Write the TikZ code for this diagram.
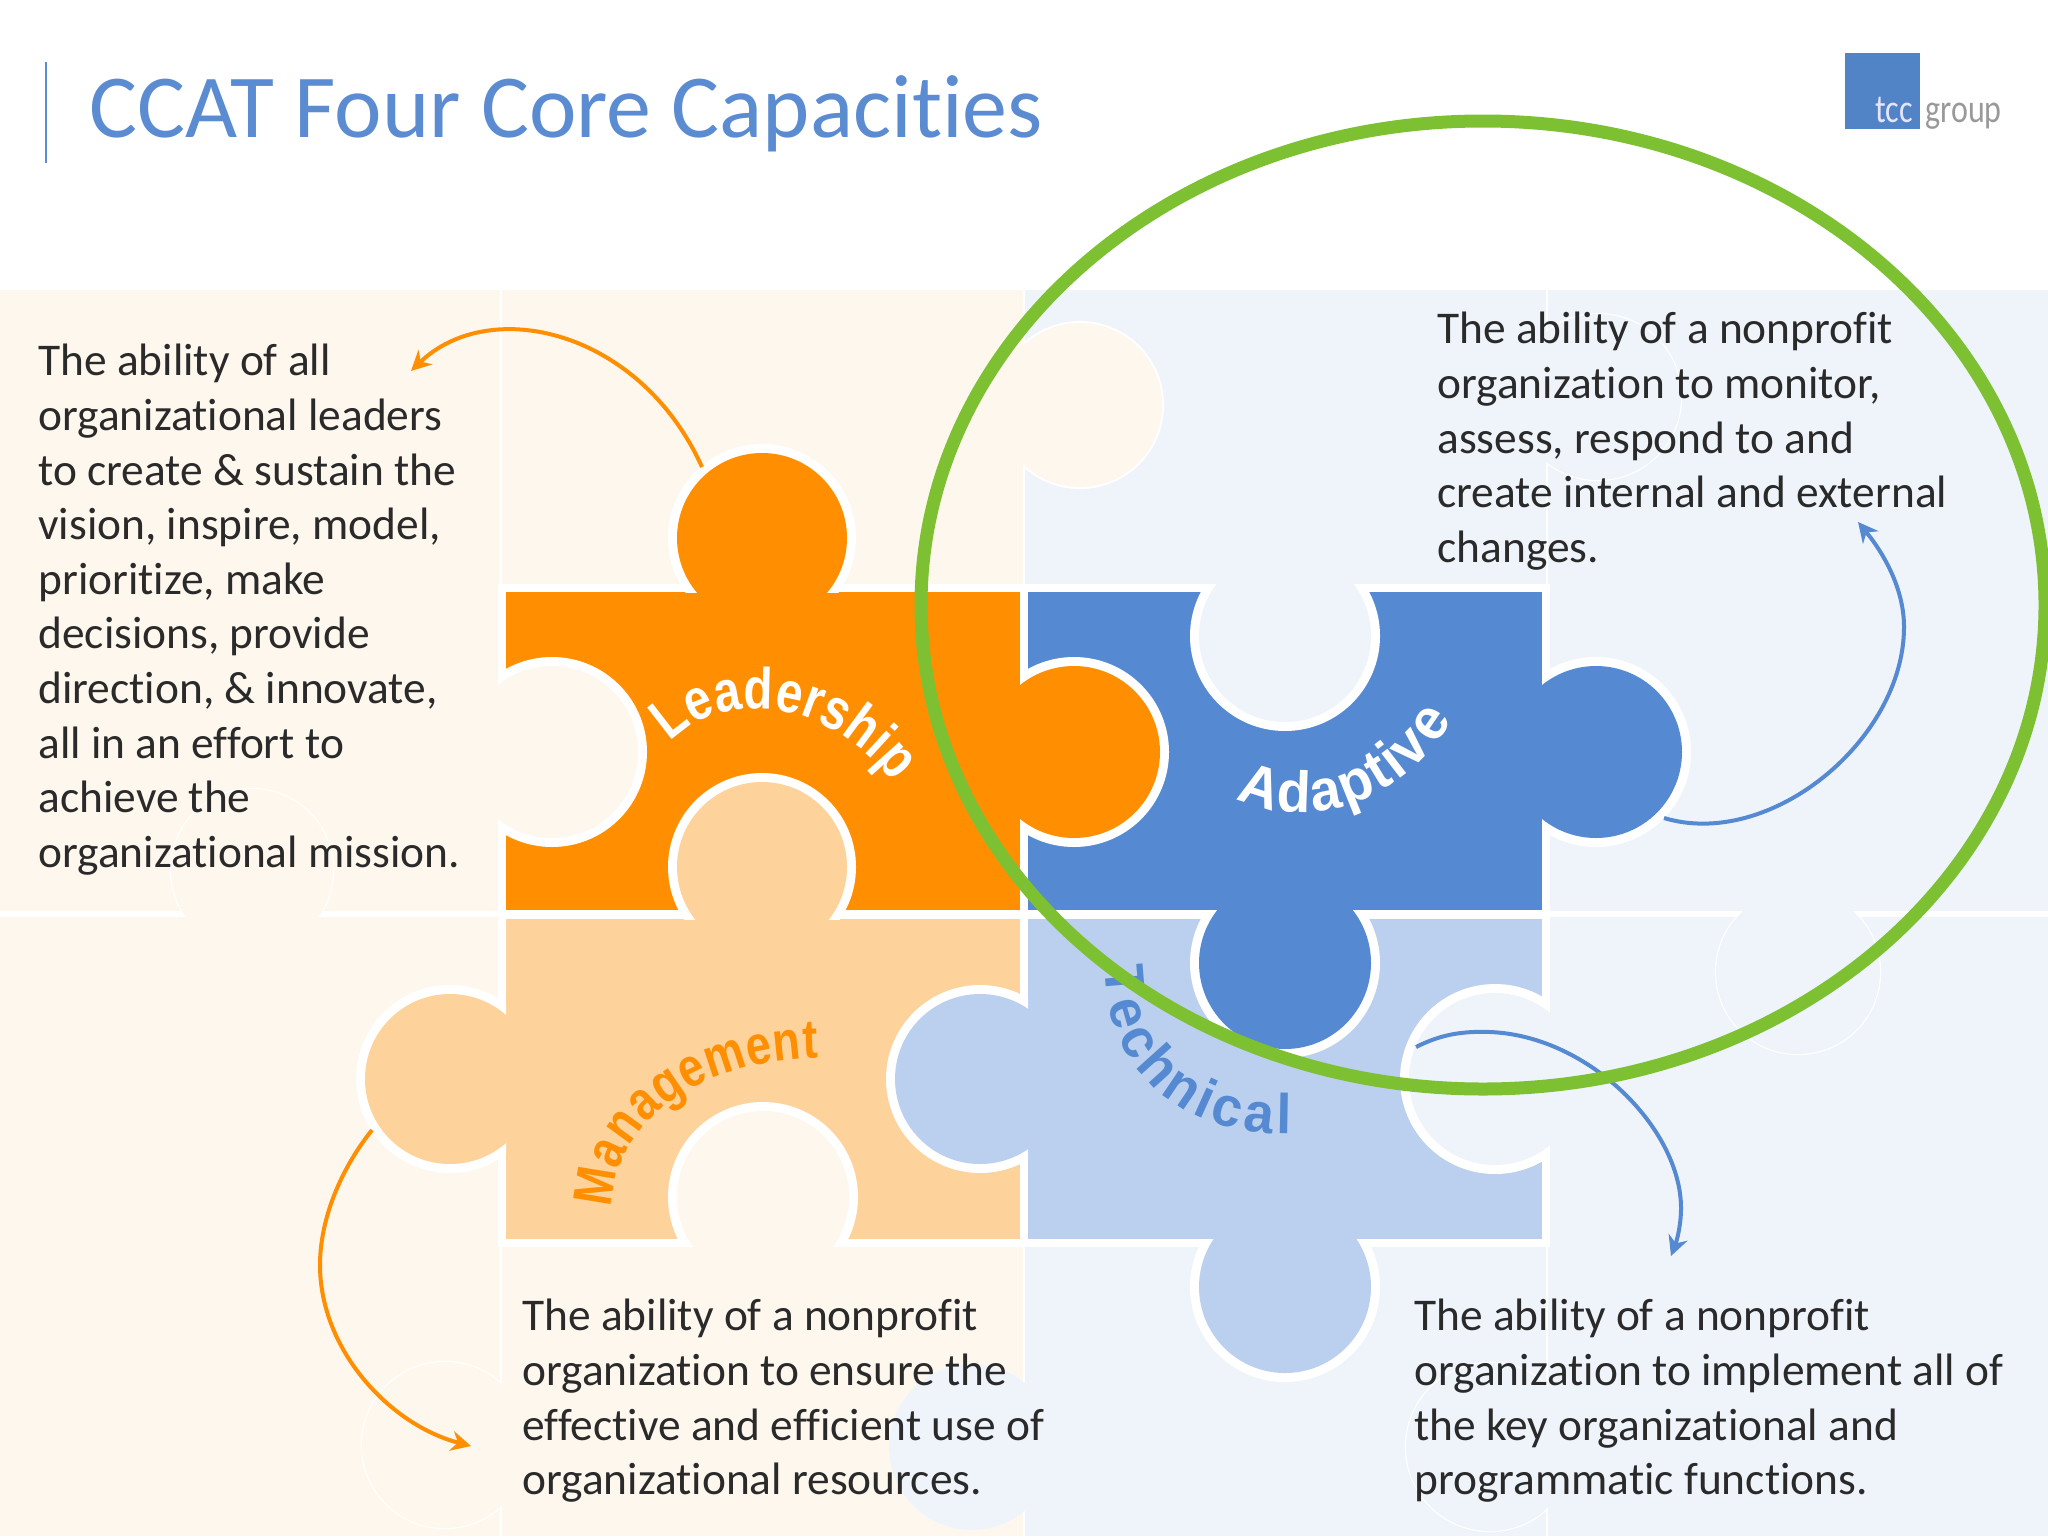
\documentclass[tikz,border=0pt]{standalone}
\usepackage{fontspec}
\usetikzlibrary{arrows.meta,decorations.text}
\setmainfont{Carlito}[Ligatures=NoCommon]
\newfontfamily\labelfam{Liberation Sans}[FakeStretch=0.82]
\newfontfamily\labelwide{Liberation Sans}[FakeStretch=0.96]
\newfontfamily\logofam{Carlito}[FakeStretch=0.8,Ligatures=NoCommon]
\newcommand{\labelleader}{\labelfam\bfseries\fontsize{29}{34}\selectfont}
\newcommand{\labelmanage}{\labelfam\bfseries\fontsize{27.5}{32}\selectfont}
\newcommand{\labeladapt}{\labelwide\bfseries\fontsize{29}{34}\selectfont}
\newcommand{\labeltech}{\labelwide\bfseries\fontsize{28}{32}\selectfont}
\definecolor{orangeC}{HTML}{FF8F00}
\definecolor{blueC}{HTML}{558AD2}
\definecolor{lorangeC}{HTML}{FDD29B}
\definecolor{lblueC}{HTML}{BAD0EE}
\definecolor{creamC}{HTML}{FEF7EE}
\definecolor{bgblueC}{HTML}{EFF4FB}
\definecolor{greenC}{HTML}{7DC133}
\definecolor{titleC}{HTML}{5B8CD2}
\definecolor{inkC}{HTML}{2A2A2A}
\newcommand{\jigtab}[7]{%
  \begin{scope}\clip (#6) rectangle (#7);
    \fill[white] (#1,#2) circle[radius={#3+#4}];
  \end{scope}
  \fill[#5] (#1,#2) circle[radius=#3];
}
\tikzset{
  para/.style={anchor=north west,inner sep=0pt,align=left,text=inkC,
    font=\fontsize{22.7}{27.3}\selectfont},
  curvearrow/.style={line width=2pt,-{Stealth[length=10pt,width=10pt]}},
  band/.style={white,line width=1.2pt},
  faintband/.style={white,line width=3pt}
}
\begin{document}
\begin{tikzpicture}[x=0.5pt,y=-0.5pt]
\useasboundingbox (0,0) rectangle (2048,1536);
\clip (0,0) rectangle (2048,1536);
% background
\fill[creamC] (0,290) rectangle (1024,1536);
\fill[bgblueC] (1024,290) rectangle (2048,1536);
\draw[band] (501,290) -- (501,1536);
\draw[band] (1024,290) -- (1024,1536);
\draw[band] (1547,290) -- (1547,1536);
\draw[faintband] (0,914) -- (2048,914);
% faint background tabs
\jigtab{1080}{405}{82}{2}{creamC}{1024,290}{2048,600}
\jigtab{252}{870}{81}{1.2}{creamC}{0,700}{500,914}
\jigtab{1798}{972}{82}{1.2}{bgblueC}{1600,914}{2048,1200}
\jigtab{445}{1445}{83}{1.2}{creamC}{300,1300}{501,1536}
\jigtab{972}{1447}{83}{0}{bgblueC}{800,1300}{1024,1536}
\jigtab{1490}{1447}{84}{1.2}{bgblueC}{1300,1300}{1547,1536}
\jigtab{1598}{397}{83}{1.2}{bgblueC}{1547,290}{1800,500}
% white outlines of the four pieces
\draw[white,line width=8pt] (506,592) rectangle (1020,910);
\draw[white,line width=8pt] (1028,592) rectangle (1542,910);
\draw[white,line width=8pt] (506,919) rectangle (1020,1239);
\draw[white,line width=8pt] (1028,919) rectangle (1542,1239);
% piece bodies
\fill[orangeC] (506,592) rectangle (1020,910);
\fill[blueC] (1028,592) rectangle (1542,910);
\fill[lorangeC] (506,919) rectangle (1020,1239);
\fill[lblueC] (1028,919) rectangle (1542,1239);
% notches
\jigtab{552}{752}{86}{9}{creamC}{506,500}{800,1000}
\jigtab{1285}{636}{86}{9}{bgblueC}{1100,592}{1500,800}
\jigtab{763}{1197}{86}{9}{creamC}{600,1000}{900,1239}
\jigtab{1495}{1079}{86}{9}{bgblueC}{1300,900}{1542,1300}
% tabs
\jigtab{762}{538}{85}{9}{orangeC}{600,400}{900,592}
\jigtab{1074}{752}{86}{9}{orangeC}{1020,600}{1250,900}
\jigtab{1596}{752}{86}{9}{blueC}{1542,600}{1750,900}
\jigtab{1285}{963}{86}{9}{blueC}{1150,910}{1450,1100}
\jigtab{762}{867}{85}{9}{lorangeC}{600,700}{900,919}
\jigtab{450}{1079}{85}{9}{lorangeC}{300,950}{506,1200}
\jigtab{980}{1079}{85}{9}{lblueC}{850,950}{1028,1200}
\jigtab{1285}{1287}{86}{9}{lblueC}{1150,1239}{1450,1450}
% curved labels
\path[decorate,decoration={text along path,text align={fit to path},text color=white,
  text={|\labelleader|Leadership}}] (670,742) .. controls (720,690) and (825,695) .. (893,782);
\path[decorate,decoration={text along path,text align={fit to path},text color=white,
  text={|\labeladapt|Adaptive}}] (1236,798) .. controls (1300,830) and (1400,810) .. (1452,720);
\path[decorate,decoration={text along path,text align={fit to path},text color=orangeC,
  text={|\labelmanage|Management}}] (612,1208) .. controls (612,1130) and (690,1060) .. (818,1058);
\path[decorate,decoration={text along path,text align={fit to path},text color=blueC,
  text={|\labeltech|Technical}}] (1105,966) .. controls (1105,1060) and (1170,1135) .. (1291,1134);
% title and logo
\coordinate (ruleTop) at (46,62); \coordinate (ruleBot) at (46,163);
\draw[titleC,line width=1pt] (ruleTop) -- (ruleBot);
\node[anchor=base west,inner sep=0pt,text=titleC,font=\fontsize{45}{54}\selectfont] (title) at (89,137) {CCAT Four Core Capacities};
\fill[blueC!95!black] (1845,53) rectangle (1920,129);
\node[anchor=base west,inner sep=0pt,text=blue!10!white,font=\logofam\fontsize{20}{24}\selectfont] (logoA) at (1875,122) {tcc};
\node[anchor=base west,inner sep=0pt,text=black!40,font=\logofam\fontsize{20}{24}\selectfont] (logoB) at (1925,122) {group};
% paragraphs
\node[para] (leaderText) at (38,344) {The ability of all\\organizational leaders\\to create \& sustain the\\vision, inspire, model,\\prioritize, make\\decisions, provide\\direction, \& innovate,\\all in an effort to\\achieve the\\organizational mission.};
\node[para] (adaptText) at (1437,312) {The ability of a nonprofit\\organization to monitor,\\assess, respond to and\\create internal and external\\changes.};
\node[para] (mgmtText) at (522,1299) {The ability of a nonprofit\\organization to ensure the\\effective and efficient use of\\organizational resources.};
\node[para] (techText) at (1414,1299) {The ability of a nonprofit\\organization to implement all of\\the key organizational and\\programmatic functions.};
% arrows
\coordinate (a1s) at (702,467); \coordinate (a1c1) at (640,330); \coordinate (a1c2) at (490,295); \coordinate (a1e) at (411,371);
\draw[orangeC,curvearrow] (a1s) .. controls (a1c1) and (a1c2) .. (a1e);
\coordinate (a2s) at (1664,818); \coordinate (a2m) at (1904,627); \coordinate (a2e) at (1858,522);
\draw[blueC,curvearrow] (a2s) .. controls (1770,850) and (1904,740) .. (a2m) .. controls (1904,590) and (1885,555) .. (a2e);
\coordinate (a3s) at (372,1130); \coordinate (a3m) at (320,1265); \coordinate (a3e) at (471,1446);
\draw[orangeC,curvearrow] (a3s) .. controls (340,1170) and (320,1220) .. (a3m) .. controls (320,1350) and (390,1425) .. (a3e);
\coordinate (a4s) at (1416,1047); \coordinate (a4m) at (1490,1032); \coordinate (a4r) at (1681,1208); \coordinate (a4e) at (1671,1256);
\draw[blueC,curvearrow] (a4s) .. controls (1440,1035) and (1460,1031) .. (a4m) .. controls (1590,1036) and (1681,1130) .. (a4r) .. controls (1681,1225) and (1677,1240) .. (a4e);
% green ellipse
\coordinate (eC) at (1483,605);
\draw[greenC,line width=6.5pt] (eC) ellipse[x radius=562,y radius=484];
\end{tikzpicture}
\end{document}
